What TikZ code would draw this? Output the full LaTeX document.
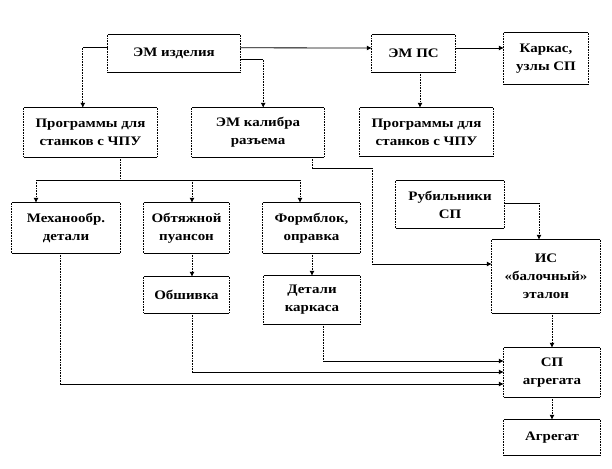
\documentclass[tikz,border=0pt]{standalone}
\usepackage{fontspec}
\newfontfamily\lab{Liberation Serif Bold}[FakeStretch=1.15]
\usetikzlibrary{arrows.meta,calc}
\tikzset{
  box/.style={inner sep=0pt, align=center, font=\lab\fontsize{13}{18}\selectfont},
  hl/.style={line width=0.8pt, black},
  vl/.style={line width=0.8pt, black, dash pattern=on 0.8pt off 0.8pt},
  tip/.style={-{Latex[length=5pt,width=5pt]}}
}
\newcommand\mkbox[6]{%
  \node[box, minimum width={(#4-#2)*1pt}, minimum height={(#5-#3)*1pt}] (#1) at ({(#2+#4)/2},{(#3+#5)/2}) {#6};
  \draw[hl] (#1.north west) -- (#1.north east) (#1.south west) -- (#1.south east);
  \draw[vl] (#1.north west) -- (#1.south west) (#1.north east) -- (#1.south east);
}
\begin{document}
\begin{tikzpicture}[x=1pt,y=-1pt]
\useasboundingbox (0,0) rectangle (612,468);
\mkbox{emiz}{108}{35}{240}{72}{ЭМ изделия}
\mkbox{progL}{24}{108}{157}{157}{Программы для\\станков с ЧПУ}
\mkbox{emk}{192}{108}{324}{157}{ЭМ калибра\\разъема}
\mkbox{emps}{372}{35}{455}{72}{ЭМ ПС}
\mkbox{kark}{504}{33}{588}{84}{Каркас,\\узлы СП}
\mkbox{progR}{360}{108}{493}{156}{Программы для\\станков с ЧПУ}
\mkbox{mech}{12}{203}{120}{253}{Механообр.\\детали}
\mkbox{obt}{144}{203}{229}{253}{Обтяжной\\пуансон}
\mkbox{form}{263}{203}{360}{253}{Формблок,\\оправка}
\mkbox{obsh}{144}{277}{229}{313}{Обшивка}
\mkbox{det}{264}{276}{360}{324}{Детали\\каркаса}
\mkbox{rub}{396}{181}{504}{228}{Рубильники\\СП}
\mkbox{is}{492}{240}{600}{313}{ИС\\«балочный»\\эталон}
\mkbox{sp}{504}{348}{600}{397}{СП\\агрегата}
\mkbox{agr}{504}{420}{600}{455}{Агрегат}

% ЭМ изделия -> Программы (left)
\draw[hl] ($(emiz.north west)+(0,13)$) -- ++(-25,0) coordinate (c1);
\draw[vl,tip] (c1) -- (c1 |- progL.north);
% ЭМ изделия -> ЭМ калибра
\draw[hl] ($(emiz.north east)+(0,25)$) -- ++(23,0) coordinate (c2);
\draw[vl,tip] (c2) -- (c2 |- emk.north);
% ЭМ изделия -> ЭМ ПС
\draw[hl,tip] ($(emiz.north east)+(0,13)$) -- (emps.west |- 0,48);
% ЭМ ПС -> Каркас
\draw[hl,tip] (emps.east |- 0,48) -- (kark.west |- 0,48);
% ЭМ ПС -> Программы (right)
\draw[vl,tip] (emps.south -| 420,0) -- (progR.north -| 420,0);
% Программы (left) -> three boxes
\draw[vl] (progL.south -| 120,0) -- (120,180) coordinate (c3);
\draw[hl] (36,180) coordinate (c4) -- (300,180) coordinate (c5);
\draw[vl,tip] (c4) -- (c4 |- mech.north);
\draw[vl,tip] (192,180) coordinate (c6) -- (c6 |- obt.north);
\draw[vl,tip] (c5) -- (c5 |- form.north);
% ЭМ калибра -> ИС
\draw[vl] (emk.south -| 312,0) -- (312,168) coordinate (c7);
\draw[hl] (c7) -- (372,168) coordinate (c8);
\draw[vl] (c8) -- (372,264) coordinate (c9);
\draw[hl,tip] (c9) -- (is.west |- c9);
% Рубильники -> ИС
\draw[hl] (rub.east |- 0,203) -- (539,203) coordinate (c10);
\draw[vl,tip] (c10) -- (c10 |- is.north);
% Обтяжной -> Обшивка
\draw[vl,tip] (obt.south -| 192,0) -- (obsh.north -| 192,0);
% Формблок -> Детали
\draw[vl,tip] (form.south -| 312,0) -- (det.north -| 312,0);
% ИС -> СП, СП -> Агрегат
\draw[vl,tip] (is.south -| 552,0) -- (sp.north -| 552,0);
\draw[vl,tip] (sp.south -| 552,0) -- (agr.north -| 552,0);
% Детали -> СП
\draw[vl] (det.south -| 323,0) -- (323,361) coordinate (c11);
\draw[hl,tip] (c11) -- (sp.west |- c11);
% Обшивка -> СП
\draw[vl] (obsh.south -| 192,0) -- (192,372) coordinate (c12);
\draw[hl,tip] (c12) -- (sp.west |- c12);
% Механообр. -> СП
\draw[vl] (mech.south -| 60,0) -- (60,384) coordinate (c13);
\draw[hl,tip] (c13) -- (sp.west |- c13);
\end{tikzpicture}
\end{document}
